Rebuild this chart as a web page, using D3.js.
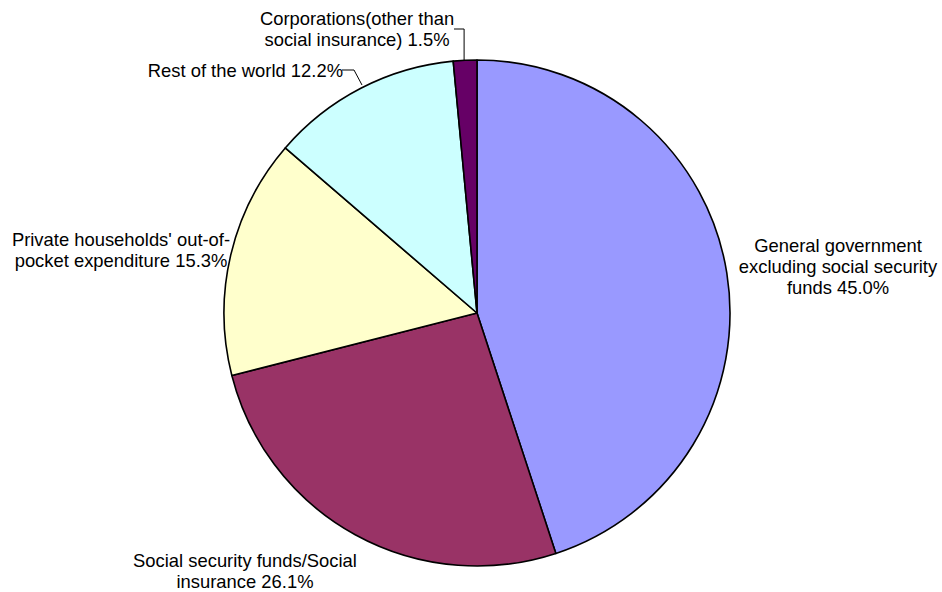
<!DOCTYPE html>
<html>
<head>
<meta charset="utf-8">
<script src="https://cdn.jsdelivr.net/npm/d3@7"></script>
<style>
  body { margin: 0; background: #fff; }
  text { font-family: Arial, "Liberation Sans", sans-serif; font-size: 18.4px; fill: #000; }
</style>
</head>
<body>
<script>
// slice data, clockwise from 12 o'clock
var categories = [
    "General government excluding social security funds",
    "Social security funds/Social insurance",
    "Private households' out-of-pocket expenditure",
    "Rest of the world",
    "Corporations(other than social insurance)"
];
var shares = [45.0, 26.1, 15.3, 12.2, 1.5];
var slice_colors = ["#9999FF", "#993366", "#FFFFCC", "#CCFFFF", "#660066"];
// how each label wraps
var label_lines = [
    ["General government", "excluding social security", "funds 45.0%"],
    ["Social security funds/Social", "insurance 26.1%"],
    ["Private households' out-of-", "pocket expenditure 15.3%"],
    ["Rest of the world 12.2%"],
    ["Corporations(other than", "social insurance) 1.5%"]
];

var W = 942, H = 592;
var cx = 477, cy = 313, r = 253;

// where the label blocks sit: x, first baseline, anchor
var label_pos = [
    {x: 838, y: 252, anchor: "middle"},
    {x: 245, y: 567, anchor: "middle"},
    {x: 121, y: 246, anchor: "middle"},
    {x: 343, y: 77,  anchor: "end"},
    {x: 357, y: 25,  anchor: "middle"}
];
var line_h = 21;

var svg = d3.select("body").append("svg")
    .attr("width", W)
    .attr("height", H);

var pie = d3.pie().sort(null).value(function(d){ return d; });
var arc = d3.arc().innerRadius(0).outerRadius(r);
var arcs = pie(shares);

var g = svg.append("g").attr("transform", "translate(" + cx + "," + cy + ")");

g.selectAll("path")
    .data(arcs)
    .enter()
    .append("path")
    .attr("d", arc)
    .attr("fill", function(d,i){ return slice_colors[i]; })
    .attr("stroke", "#000")
    .attr("stroke-width", 1.6)
    .attr("stroke-linejoin", "round");

// leader lines for the two small top slices
function edgePoint(a){
    var mid = (a.startAngle + a.endAngle) / 2;
    return [cx + r * Math.sin(mid), cy - r * Math.cos(mid)];
}
var pC = edgePoint(arcs[4]);
var pR = edgePoint(arcs[3]);
var leaders = [
    [[454, 29], [pC[0] - 1, 29], [pC[0] - 1, pC[1]]],
    [[342, 70], [354, 70], [362, 85]]
];
svg.selectAll("polyline")
    .data(leaders)
    .enter()
    .append("polyline")
    .attr("points", function(d){ return d.map(function(p){ return p.join(","); }).join(" "); })
    .attr("fill", "none")
    .attr("stroke", "#000")
    .attr("stroke-width", 1);

var labels = svg.append("g")
    .selectAll("text")
    .data(label_lines)
    .enter()
    .append("text")
    .attr("text-anchor", function(d,i){ return label_pos[i].anchor; })
    .attr("x", function(d,i){ return label_pos[i].x; })
    .attr("y", function(d,i){ return label_pos[i].y; });

labels.each(function(d,i){
    var t = d3.select(this);
    d.forEach(function(line, k){
        t.append("tspan")
            .attr("x", label_pos[i].x)
            .attr("dy", k == 0 ? 0 : line_h)
            .text(line);
    });
});
</script>
</body>
</html>
